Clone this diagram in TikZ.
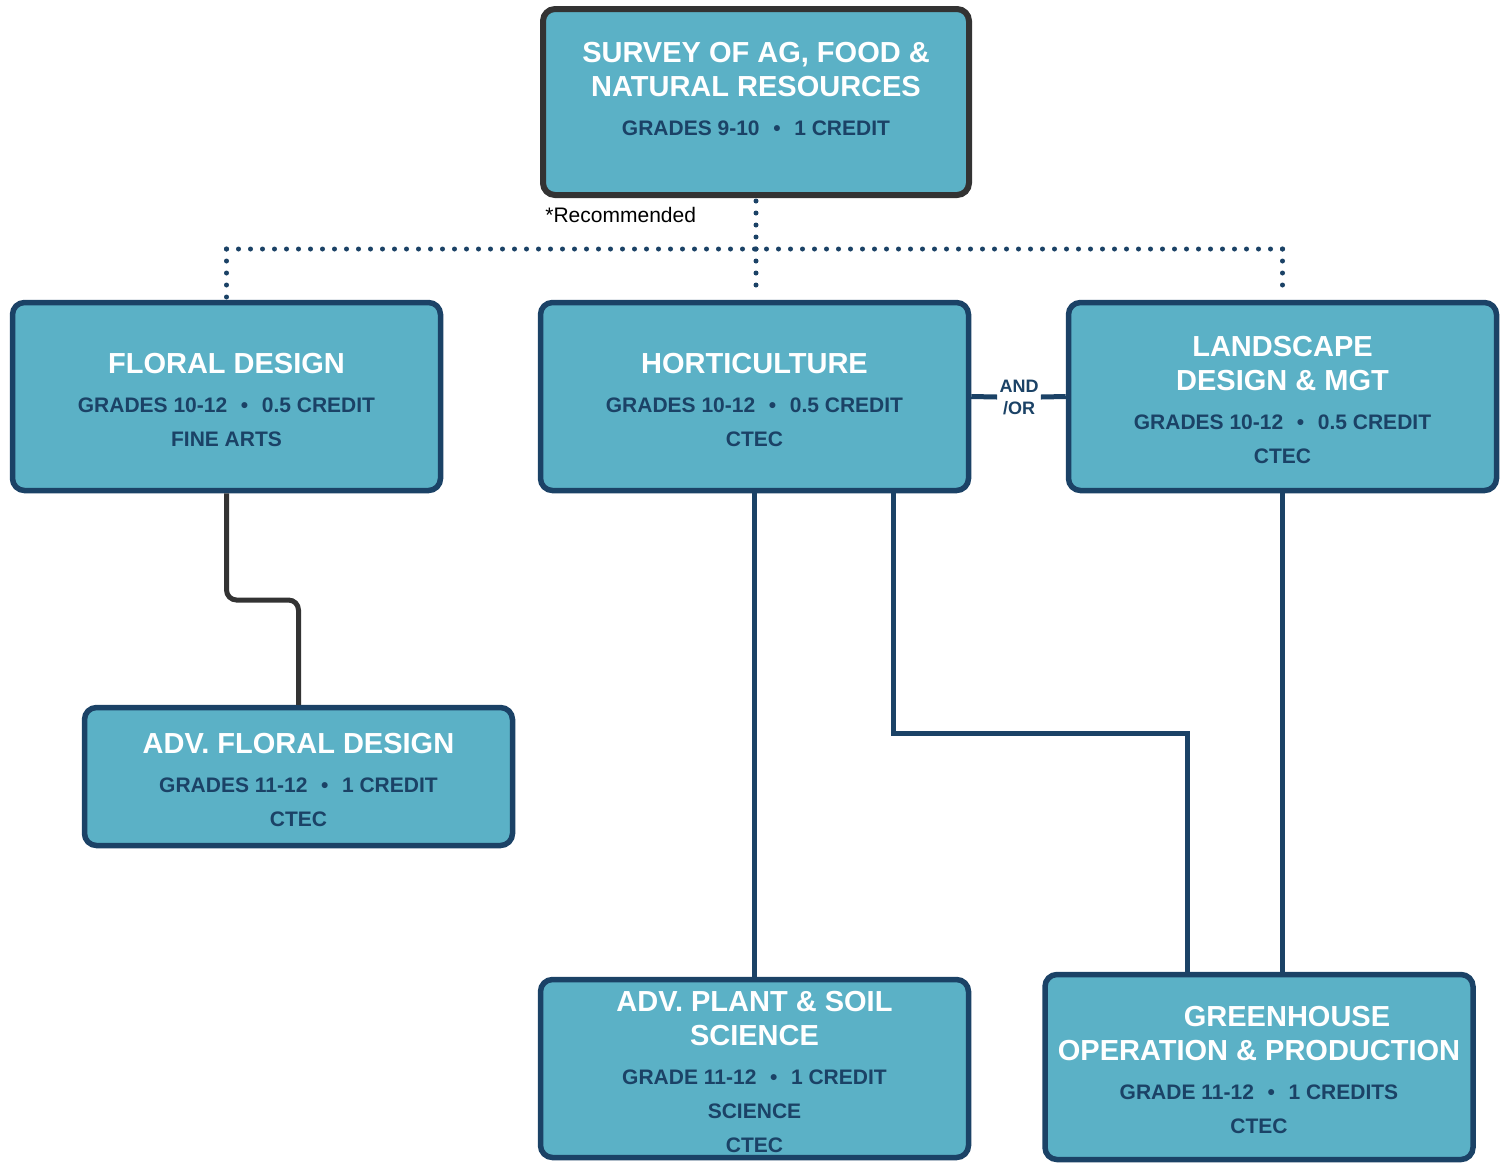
\documentclass[tikz,border=0pt]{standalone}
\usepackage{fontspec}
\setmainfont{Liberation Sans}
\usetikzlibrary{positioning}

\definecolor{boxfill}{HTML}{5BB1C6}
\definecolor{navy}{HTML}{1B4266}
\definecolor{charcoal}{HTML}{333333}

\newcommand{\info}{\fontsize{10.5}{17}\selectfont\color{navy}}
\newcommand{\gbul}{\hspace{.65em}\textbullet\hspace{.65em}}
\newcommand{\hd}{\rule{0pt}{13.5pt}}

\tikzset{
  course/.style={draw=navy, line width=2.75pt, fill=boxfill, rounded corners=6pt,
    text=white, align=center, inner sep=0pt, minimum width=214pt,
    font=\bfseries\fontsize{14.5}{17}\selectfont},
  link/.style={draw=navy, line width=2.5pt},
  dots/.style={draw=navy, line width=2.5pt, line cap=round, dash pattern=on 0pt off 6pt}
}

\begin{document}
\begin{tikzpicture}[x=0.5pt, y=-0.5pt]
          \useasboundingbox (0,0) rectangle (1506,1164);

          % first year
          \node[course, draw=charcoal, line width=3pt, minimum width=213pt, minimum height=93pt] (survey) at (756,102)
          {\hd SURVEY OF AG, FOOD \&\\NATURAL RESOURCES\\[2.5pt]{\info GRADES 9-10\gbul 1 CREDIT}\\[0pt]{}};
          \node[anchor=west, inner sep=0pt, font=\fontsize{10.5}{12}\selectfont] (rec) at (545,215) {*Recommended};

          % second row
          \node[course, minimum height=94pt] (floral) at (226.5,396.5)
          {\hd FLORAL DESIGN\\[2.5pt]{\info GRADES 10-12\gbul 0.5 CREDIT}\\{\info FINE ARTS}};
          \node[course, minimum height=94pt] (hort) at (754.5,396.5)
          {\hd HORTICULTURE\\[2.5pt]{\info GRADES 10-12\gbul 0.5 CREDIT}\\{\info CTEC}};
          \node[course, minimum height=94pt] (land) at (1282.5,396.5)
          {\hd LANDSCAPE\\DESIGN \& MGT\\[2.5pt]{\info GRADES 10-12\gbul 0.5 CREDIT}\\{\info CTEC}};
          \node[align=center, inner sep=1pt, text=navy, font=\bfseries\fontsize{9}{11}\selectfont] (andor) at (1019,397) {AND\\/OR};

          % advanced
          \node[course, minimum height=69pt] (advfloral) at (298.5,776.5)
          {\hd ADV. FLORAL DESIGN\\[2.5pt]{\info GRADES 11-12\gbul 1 CREDIT}\\{\info CTEC}};
          \node[course, minimum height=89pt] (advplant) at (754.5,1068.5)
          {\hd ADV. PLANT \& SOIL\\SCIENCE\\[2.5pt]{\info GRADE 11-12\gbul 1 CREDIT}\\{\info SCIENCE}\\{\info CTEC}};
          \node[course, minimum height=92.5pt] (green) at (1259,1067)
          {\hd\hspace*{28pt}GREENHOUSE\\OPERATION \& PRODUCTION\\[2.5pt]{\info GRADE 11-12\gbul 1 CREDITS}\\{\info CTEC}};

          % recommended paths
          \coordinate (bar) at (756,249);
          \draw [dots] (bar) -- (survey.south);
          \draw [dots] (bar) -- (bar |- 0,290);
          \draw [dots] (floral.north |- bar) -- (land.north |- bar);
          \draw [dots] (floral.north |- bar) -- (floral.north);
          \draw [dots] (land.north |- bar) -- ([yshift=6pt]land.north);

          % and/or
          \draw [link] (hort.east) -- (andor.west);
          \draw [link] (andor.east) -- (land.west);

          % sequences
          \coordinate (fmid) at (0,600);
          \draw [draw=charcoal, line width=2.5pt, rounded corners=5pt] (floral.south) -- (floral.south |- fmid) -| (advfloral.north);
          \draw [link] (hort.south) -- (advplant.north);
          \coordinate (ga) at (893,733);
          \coordinate (gb) at (1187,733);
          \draw [link] (hort.south -| ga) -- (ga) -- (gb) -- (gb |- green.north);
          \draw [link] (land.south) -- (land.south |- green.north);
\end{tikzpicture}
\end{document}
